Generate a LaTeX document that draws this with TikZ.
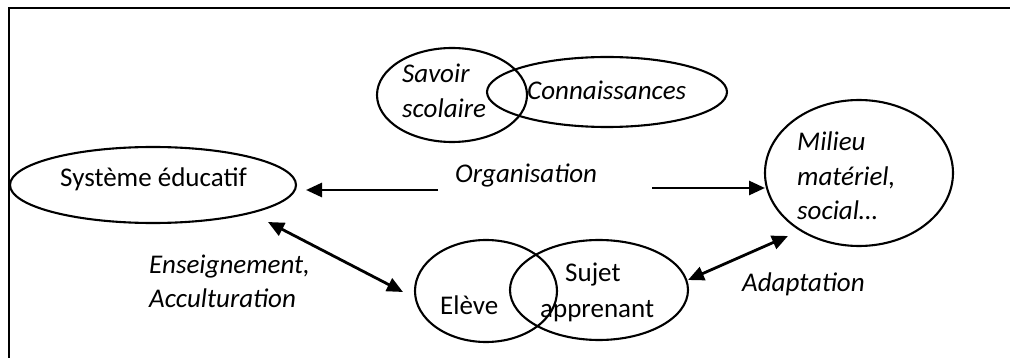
\documentclass[tikz,border=0pt]{standalone}
\usepackage{fontspec}
\setmainfont{Carlito}
\usetikzlibrary{arrows.meta,shapes.geometric}
\begin{document}
\begin{tikzpicture}[x=1pt,y=-1pt,
  ell/.style={draw,line width=2.1pt,ellipse,inner sep=0pt},
  lbl/.style={anchor=base west,inner sep=0pt,font=\fontsize{27}{32}\selectfont},
  ilbl/.style={lbl,font=\fontsize{27}{32}\selectfont\itshape},
  conn/.style={line width=2.8pt,-{Triangle[length=16pt,width=14pt]}},
  dconn/.style={line width=2.8pt,{Triangle[length=16pt,width=14pt]}-{Triangle[length=16pt,width=14pt]}}]
\useasboundingbox (0,0) rectangle (1010,358);
% frame (top and left edges only visible)
\draw[line width=2.6pt] (1012,8) -- (9,8) -- (9,360);
% ellipses
\node[ell,minimum width=150pt,minimum height=94pt] (sav) at (452,95) {};
\node[ell,minimum width=240pt,minimum height=70pt] (con) at (607,92) {};
\node[ell,minimum width=286pt,minimum height=76pt] (sys) at (153,185) {};
\node[ell,minimum width=188pt,minimum height=146pt] (mil) at (859,173) {};
\node[ell,minimum width=142pt,minimum height=102pt] (ele) at (486,291) {};
\node[ell,minimum width=178pt,minimum height=100pt] (suj) at (599,290) {};
% texts
\node[ilbl] (t1) at (402,83) {Savoir};
\node[ilbl] (t2) at (402,118) {scolaire};
\node[ilbl] (t3) at (527,100) {Connaissances};
\node[lbl] (t4) at (60,187) {Système éducatif};
\node[ilbl] (t5) at (455,183) {Organisation};
\node[ilbl] (t6) at (797,151) {Milieu};
\node[ilbl] (t7) at (797,186) {matériel,};
\node[ilbl] (t8) at (797,220) {social…};
\node[ilbl] (t9) at (149,273) {Enseignement,};
\node[ilbl] (t10) at (149,308) {Acculturation};
\node[lbl] (t11) at (440,315) {Elève};
\node[lbl] (t12) at (565,282) {Sujet};
\node[lbl] (t13) at (540,317) {apprenant};
\node[ilbl] (t14) at (742,292) {Adaptation};
% connector end points
\coordinate (oL1) at (438,190);
\coordinate (oL2) at (306,190);
\coordinate (oR1) at (652,188);
\coordinate (oR2) at (765,188);
\coordinate (e1) at (268,222);
\coordinate (e2) at (403,292);
\coordinate (a1) at (688,280);
\coordinate (a2) at (788,236);
\draw[conn] (oL1) -- (oL2);
\draw[conn] (oR1) -- (oR2);
\draw[dconn] (e1) -- (e2);
\draw[dconn] (a1) -- (a2);
\end{tikzpicture}
\end{document}
